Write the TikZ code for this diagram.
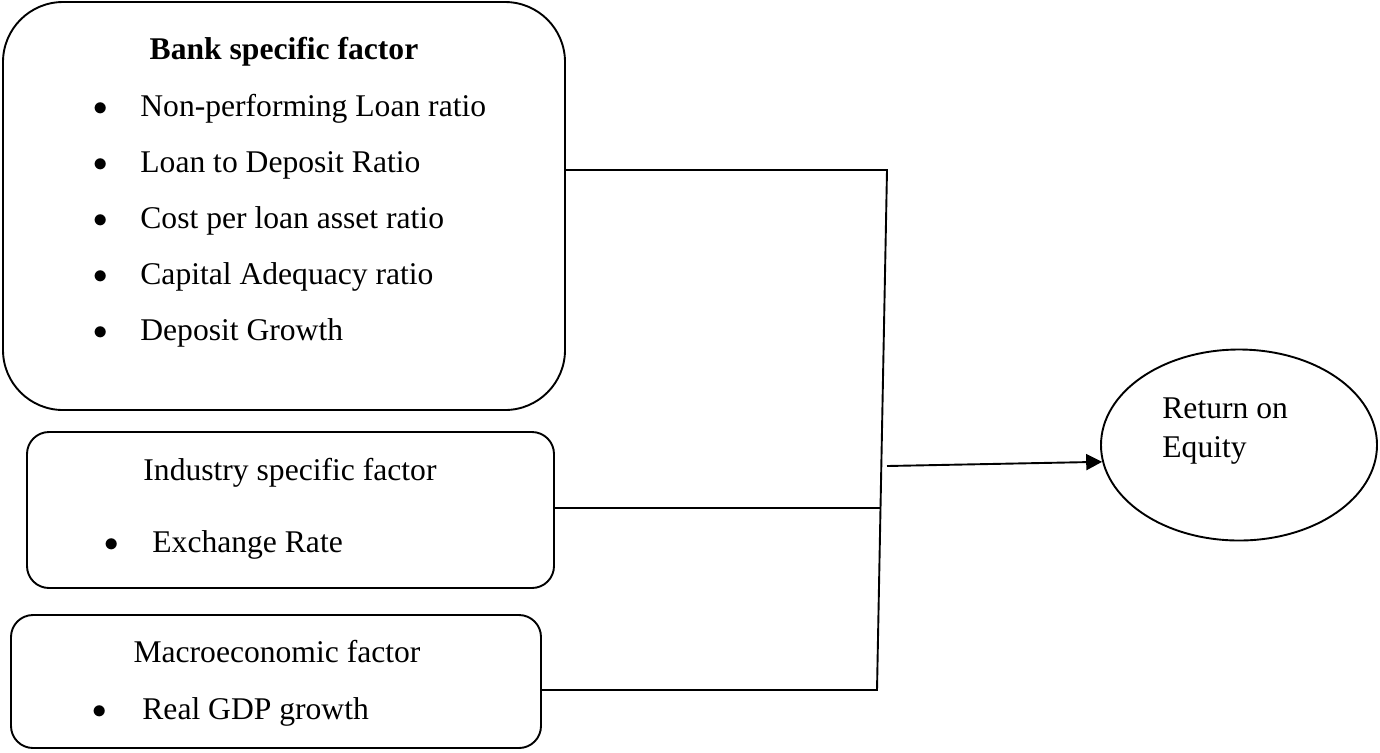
\documentclass[tikz,border=0pt]{standalone}
\usepackage{fontspec}
\setmainfont{Liberation Serif}
\usetikzlibrary{arrows.meta,positioning,shapes.geometric}

\tikzset{
  factorbox/.style={draw, line width=0.95pt, inner sep=0pt},
  itemtext/.style={anchor=west, inner sep=0pt, font=\fontsize{15.8}{19.5}\selectfont},
  titletext/.style={inner sep=0pt, font=\fontsize{15.8}{19.5}\selectfont},
  dot/.style={inner sep=0pt, font=\fontsize{15.8}{19.5}\selectfont},
  link/.style={line width=0.95pt},
}

\begin{document}
\begin{tikzpicture}[x=0.5pt, y=-0.5pt]
  \useasboundingbox (0,0) rectangle (1380,752);

  % Boxes
  \node[factorbox, rounded corners=30pt, minimum width=281pt, minimum height=204pt] (bank) at (284,206) {};
  \node[factorbox, rounded corners=11pt, minimum width=263.5pt, minimum height=78pt] (industry) at (290.5,510) {};
  \node[factorbox, rounded corners=11pt, minimum width=265pt, minimum height=66.5pt] (macro) at (276,681.5) {};
  \node[factorbox, ellipse, minimum width=138pt, minimum height=95.5pt] (roe) at (1239,445) {};

  % Texts
  \node[titletext, font=\fontsize{15.8}{19.5}\selectfont\bfseries] (banktitle) at (284,52) {Bank specific factor};
  \foreach \txt [count=\i] in {Non-performing Loan ratio, Loan to Deposit Ratio, Cost per loan asset ratio, Capital Adequacy ratio, Deposit Growth} {
    \node[dot] (bdot\i) at (101,53+56*\i) {$\bullet$};
    \node[itemtext] (bitem\i) at (140,53+56*\i) {\txt};
  }
  \node[titletext] (indtitle) at (290,473) {Industry specific factor};
  \node[dot] (idot) at (112,545) {$\bullet$};
  \node[itemtext] (iitem) at (152,545) {Exchange Rate};
  \node[titletext] (mactitle) at (277,652) {Macroeconomic factor};
  \node[dot] (mdot) at (100,712) {$\bullet$};
  \node[itemtext] (mitem) at (142,712) {Real GDP growth};
  \node[itemtext, align=left] (roetext) at (1162,431) {Return on\\Equity};

  % Connectors
  \coordinate (jtop) at (887,170);
  \coordinate (jmid) at (880,508);
  \coordinate (jbot) at (877,690);
  \coordinate (astart) at (887,466);
  \draw[link] (bank.east |- jtop) -- (jtop) -- (jbot) -- (macro.east |- jbot);
  \draw[link] (industry.east |- jmid) -- (jmid);
  \draw[link, -{Triangle[length=8pt, width=8pt]}] (astart) -- (roe.187);
\end{tikzpicture}
\end{document}
